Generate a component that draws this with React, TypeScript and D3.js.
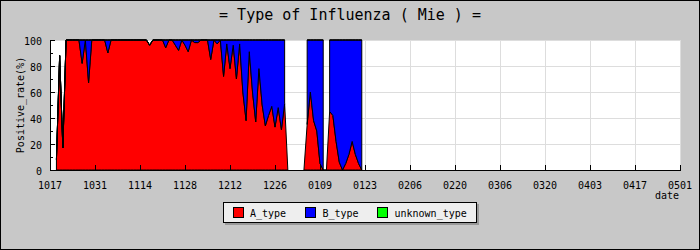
import React from 'react';
import * as d3 from 'd3';

const tickLabels = ["1017","1031","1114","1128","1212","1226","0109","0123","0206","0220","0306","0320","0403","0417","0501"];
const yTicks = [0, 20, 40, 60, 80, 100];

const aType: (number | null)[] = [
  null, null, 8, 88, 17, 100, 100, 100, 100, 100,
  82, 100, 67, 100, 100, 100, 100, 100, 90, 100,
  100, 100, 100, 100, 100, 100, 100, 100, 100, 100,
  100, 96, 100, 100, 100, 100, 94, 100, 100, 96,
  92, 100, 96, 91, 100, 98, 98, 100, 100, 100,
  85, 100, 97, 100, 72, 97, 78, 96, 70, 97,
  60, 38, 91, 60, 37, 78, 50, 34, 42, 49,
  33, 48, 31, 51, 0, null, null, null, null, 0,
  35, 60, 38, 30, 5, 0, 0, 45, 42, 22,
  6, 0, 5, 12, 22, 12, 5, 0,
];
const bType: (number | null)[] = [
  null, null, 0, 0, 0, 0, 0, 0, 0, 0,
  18, 0, 33, 0, 0, 0, 0, 0, 10, 0,
  0, 0, 0, 0, 0, 0, 0, 0, 0, 0,
  0, 0, 0, 0, 0, 0, 6, 0, 0, 4,
  8, 0, 4, 9, 0, 2, 2, 0, 0, 0,
  15, 0, 3, 0, 28, 3, 22, 4, 30, 3,
  40, 62, 9, 40, 63, 22, 50, 66, 58, 51,
  67, 52, 69, 49, null, null, null, null, null, null,
  65, 40, 62, 70, 95, 100, null, 55, 58, 78,
  94, 100, 95, 88, 78, 88, 95, 100,
];
const unknownType: (number | null)[] = [
  null, null, 0, 0, 0, 0, 0, 0, 0, 0,
  0, 0, 0, 0, 0, 0, 0, 0, 0, 0,
  0, 0, 0, 0, 0, 0, 0, 0, 0, 0,
  0, 0, 0, 0, 0, 0, 0, 0, 0, 0,
  0, 0, 0, 0, 0, 0, 0, 0, 0, 0,
  0, 0, 0, 0, 0, 0, 0, 0, 0, 0,
  0, 0, 0, 0, 0, 0, 0, 0, 0, 0,
  0, 0, 0, 0, null, null, null, null, null, null,
  0, 0, 0, 0, 0, 0, null, 0, 0, 0,
  0, 0, 0, 0, 0, 0, 0, 0,
];

const seriesKeys = ["A_type", "B_type", "unknown_type"];
const seriesColors = ["#ff0000", "#0000ff", "#00ff00"];

const W = 700, H = 250;
const L = 50, R = 680, T = 40, B = 170;
const DAYS_PER_TICK = 14;
const FONT = "'DejaVu Sans Mono', 'Liberation Mono', monospace";

export default function App() {
  const x = d3.scaleLinear().domain([0, (tickLabels.length - 1) * DAYS_PER_TICK]).range([L, R]);
  const y = d3.scaleLinear().domain([0, 100]).range([B, T]);

  const rows = aType.map((a, i) => ({ i, A_type: a, B_type: bType[i], unknown_type: unknownType[i] }));
  const stack = d3.stack<any>().keys(seriesKeys).value((d: any, k: string) => (d[k] == null ? 0 : d[k]));
  const stacked = stack(rows);
  const makeArea = (key: string) => d3.area<any>()
    .defined((d: any) => d.data[key] != null)
    .x((d: any) => x(d.data.i))
    .y0((d: any) => y(d[0]))
    .y1((d: any) => y(d[1]));

  const minorTicks = d3.range(10, 100, 20);

  const legendItems = [
    { label: "A_type", sx: 233, tx: 250 },
    { label: "B_type", sx: 305, tx: 322.5 },
    { label: "unknown_type", sx: 377, tx: 394.5 },
  ];

  return (
    <svg width={W} height={H} style={{ position: 'fixed', left: 0, top: 0, display: 'block' }} fontFamily={FONT}>
      <rect x={0.5} y={0.5} width={W - 1} height={H - 1} fill="#c8c8c8" stroke="#000" />
      <text x={350} y={20} textAnchor="middle" fontSize={15} fill="#000">= Type of Influenza ( Mie ) =</text>

      <rect x={L} y={T} width={R - L} height={B - T} fill="#fff" />
      <g shapeRendering="crispEdges" stroke="#dddddd">
        {yTicks.filter(v => v > 0).map(v => (
          <line key={'h' + v} x1={L} x2={R} y1={Math.round(y(v)) + 0.5} y2={Math.round(y(v)) + 0.5} />
        ))}
        {tickLabels.map((_, k) => k > 0 && (
          <line key={'v' + k} x1={Math.round(x(k * DAYS_PER_TICK)) + 0.5} x2={Math.round(x(k * DAYS_PER_TICK)) + 0.5} y1={T} y2={B} />
        ))}
      </g>

      {stacked.map((s, k) => (
        <path key={seriesKeys[k]} d={makeArea(seriesKeys[k])(s) || ''} fill={seriesColors[k]} stroke="#000" strokeWidth={1} strokeLinejoin="miter" />
      ))}

      <g shapeRendering="crispEdges" stroke="#000">
        <line x1={L + 0.5} x2={L + 0.5} y1={T} y2={B + 0.5} />
        <line x1={L} x2={R + 1} y1={B + 0.5} y2={B + 0.5} />
        {yTicks.map(v => (
          <line key={'yt' + v} x1={L} x2={L + 5} y1={Math.round(y(v)) + 0.5} y2={Math.round(y(v)) + 0.5} />
        ))}
        {minorTicks.map(v => (
          <line key={'ym' + v} x1={L} x2={L + 3} y1={Math.round(y(v)) + 0.5} y2={Math.round(y(v)) + 0.5} />
        ))}
        {tickLabels.map((_, k) => (
          <line key={'xt' + k} x1={Math.round(x(k * DAYS_PER_TICK)) + 0.5} x2={Math.round(x(k * DAYS_PER_TICK)) + 0.5} y1={B - 5} y2={B} />
        ))}
      </g>

      {yTicks.map(v => (
        <text key={'yl' + v} x={42} y={y(v) + 5} textAnchor="end" fontSize={10} fill="#000">{v}</text>
      ))}
      {tickLabels.map((lab, k) => (
        <text key={'xl' + k} x={x(k * DAYS_PER_TICK)} y={189} textAnchor="middle" fontSize={10} fill="#000">{lab}</text>
      ))}
      <text x={679} y={199} textAnchor="end" fontSize={10} fill="#000">date</text>
      <text transform={`translate(24,${(T + B) / 2}) rotate(-90)`} textAnchor="middle" fontSize={10} fill="#000">Positive_rate(%)</text>

      <rect x={225} y={204} width={254} height={21} fill="#999" />
      <rect x={223.5} y={202.5} width={253} height={20} fill="#eeeeee" stroke="#000" />
      {legendItems.map((it, k) => (
        <g key={it.label}>
          <rect x={it.sx + 0.5} y={207.5} width={10} height={10} fill={seriesColors[k]} stroke="#000" />
          <text x={it.tx} y={216.5} fontSize={10} fill="#000">{it.label}</text>
        </g>
      ))}
    </svg>
  );
}
